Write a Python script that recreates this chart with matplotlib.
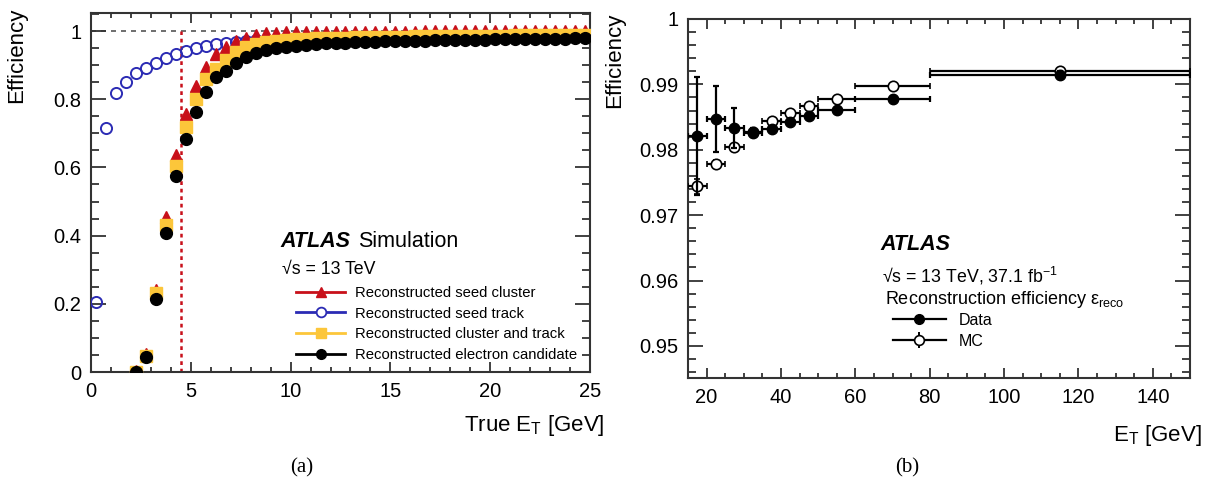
import matplotlib
matplotlib.use('Agg')
import matplotlib.pyplot as plt
import numpy as np
from matplotlib.lines import Line2D
from matplotlib.ticker import MultipleLocator, FormatStrFormatter

plt.rcParams['font.family'] = ['Liberation Sans', 'DejaVu Sans']
plt.rcParams['mathtext.fontset'] = 'custom'
plt.rcParams['mathtext.rm'] = 'Liberation Sans'
plt.rcParams['mathtext.it'] = 'Liberation Sans:italic'
plt.rcParams['mathtext.default'] = 'regular'

# ---- panel (a): efficiency vs true ET ----
x_track = np.arange(0.25, 25.0, 0.5)          # bin centres, 0.5 GeV bins
x_clus = np.arange(2.25, 25.0, 0.5)

eff_seed_track = [0.205, 0.715, 0.818, 0.850, 0.876, 0.893, 0.907, 0.922, 0.934, 0.941,
                  0.950, 0.957, 0.962, 0.964, 0.968, 0.971, 0.973, 0.974, 0.975, 0.976,
                  0.977, 0.977, 0.978, 0.978, 0.979, 0.979, 0.980, 0.980, 0.980, 0.981,
                  0.981, 0.981, 0.982, 0.982, 0.982, 0.982, 0.983, 0.983, 0.983, 0.983,
                  0.984, 0.984, 0.984, 0.984, 0.984, 0.985, 0.985, 0.985, 0.985, 0.985]
eff_seed_cluster = [0.003, 0.052, 0.241, 0.454, 0.637, 0.758, 0.838, 0.894, 0.933, 0.953,
                    0.970, 0.980, 0.988, 0.993, 0.995, 0.996,
                    0.997, 0.997, 0.997, 0.997, 0.998, 0.998, 0.998, 0.998, 0.998, 0.998,
                    0.998, 0.998, 0.998, 0.999, 0.999, 0.999, 0.999, 0.999, 0.999, 0.999,
                    0.999, 0.999, 0.999, 0.999, 0.999, 0.999, 0.999, 0.999, 0.999, 0.999]
eff_clus_track = [0.000, 0.048, 0.232, 0.430, 0.603, 0.719, 0.800, 0.859, 0.889, 0.916,
                  0.939, 0.953, 0.962, 0.968, 0.972, 0.975,
                  0.977, 0.978, 0.979, 0.980, 0.981, 0.981, 0.982, 0.982, 0.983, 0.983,
                  0.984, 0.984, 0.985, 0.985, 0.985, 0.986, 0.986, 0.986, 0.987, 0.987,
                  0.987, 0.987, 0.988, 0.988, 0.988, 0.988, 0.989, 0.989, 0.989, 0.989]
eff_electron = [0.000, 0.045, 0.215, 0.408, 0.574, 0.683, 0.763, 0.820, 0.864, 0.884,
                0.906, 0.923, 0.936, 0.944, 0.949, 0.954,
                0.957, 0.960, 0.962, 0.964, 0.965, 0.966, 0.967, 0.968, 0.969, 0.970,
                0.970, 0.971, 0.972, 0.972, 0.973, 0.973, 0.974, 0.974, 0.975, 0.975,
                0.976, 0.976, 0.976, 0.977, 0.977, 0.978, 0.978, 0.978, 0.979, 0.979]

# ---- panel (b): reconstruction efficiency vs ET ----
bin_edges = [15, 20, 25, 30, 35, 40, 45, 50, 60, 80, 150]
bin_centres = [17.5, 22.5, 27.5, 32.5, 37.5, 42.5, 47.5, 55, 70, 115]
eff_data = [0.9821, 0.9847, 0.9833, 0.9826, 0.9832, 0.9842, 0.9851, 0.9861, 0.9878, 0.9914]
err_data = [0.0090, 0.0050, 0.0031, 0.0007, 0.0004, 0.0004, 0.0004, 0.0004, 0.0004, 0.0006]
eff_mc = [0.9744, 0.9779, 0.9804, 0.9827, 0.9844, 0.9856, 0.9867, 0.9878, 0.9897, 0.9920]
err_mc = [0.0012, 0.0005, 0.0005, 0.0005, 0.0004, 0.0003, 0.0003, 0.0003, 0.0003, 0.0003]

RED = '#c8101a'
BLUE = '#2b2bb4'
YELLOW = '#fcc63a'
SPINE = '#333333'

W, H = 1209, 493
fig = plt.figure(figsize=(W / 100, H / 100), dpi=100)
ax1 = fig.add_axes([91 / W, 1 - 372 / H, (590 - 91) / W, (372 - 13) / H])
ax2 = fig.add_axes([688 / W, 1 - 378 / H, (1190 - 688) / W, (378 - 19) / H])


def style_axes(ax, ylen_major, xlen_major):
    for s in ax.spines.values():
        s.set_color(SPINE)
        s.set_linewidth(1.5)
    ax.tick_params(which='both', direction='in', top=True, right=True,
                   color=SPINE, width=1.3, labelsize=14.5)
    ax.tick_params(axis='y', which='major', length=ylen_major, pad=7)
    ax.tick_params(axis='y', which='minor', length=ylen_major / 2)
    ax.tick_params(axis='x', which='major', length=xlen_major, pad=7)
    ax.tick_params(axis='x', which='minor', length=xlen_major / 2)


def px(x, y):
    return x / W, 1 - y / H


# panel (a)
ax1.set_xlim(0, 25)
ax1.set_ylim(0, 1.053)
ax1.plot([0, 25], [1, 1], ls=(0, (3, 3)), color='#555555', lw=1.2, zorder=1)
ax1.plot([4.5, 4.5], [0, 1], ls=(0, (1.5, 1.5)), color=RED, lw=1.8, zorder=1)
ax1.plot(x_track, eff_seed_track, 'o', ms=8, mfc='none', mec=BLUE, mew=1.4, zorder=3)
ax1.plot(x_clus, eff_seed_cluster, '^', ms=8.5, color=RED, zorder=4)
ax1.plot(x_clus, eff_clus_track, 's', ms=8, color=YELLOW, zorder=5)
ax1.plot(x_clus, eff_electron, 'o', ms=8.5, color='black', zorder=6)
ax1.xaxis.set_major_locator(MultipleLocator(5))
ax1.xaxis.set_minor_locator(MultipleLocator(1))
ax1.yaxis.set_major_locator(MultipleLocator(0.2))
ax1.yaxis.set_minor_locator(MultipleLocator(0.05))
ax1.yaxis.set_major_formatter(FormatStrFormatter('%g'))
style_axes(ax1, 11, 7)

fig.text(*px(280, 241), 'ATLAS', fontsize=15.5, fontweight='bold', style='italic', va='center')
fig.text(*px(358, 241), 'Simulation', fontsize=15.5, va='center')
fig.text(*px(282, 270), '√s = 13 TeV', fontsize=12.8, va='center')
h1 = [Line2D([], [], color=RED, lw=2, marker='^', ms=7),
      Line2D([], [], color=BLUE, lw=2, marker='o', ms=7, mfc='white', mew=1.3),
      Line2D([], [], color=YELLOW, lw=2, marker='s', ms=7),
      Line2D([], [], color='black', lw=2, marker='o', ms=7)]
l1 = ['Reconstructed seed cluster', 'Reconstructed seed track',
      'Reconstructed cluster and track', 'Reconstructed electron candidate']
ax1.legend(h1, l1, loc='upper left', bbox_to_anchor=((296 - 91) / (590 - 91), (372 - 286) / (372 - 13)),
           frameon=False, fontsize=10.7, handlelength=3.3, handletextpad=0.7,
           labelspacing=0.45, borderaxespad=0, borderpad=0)

fig.text(*px(17, 8), 'Efficiency', rotation=90, fontsize=16, ha='center', va='top')
fig.text(*px(605, 425), 'True E$_T$ [GeV]', fontsize=16, ha='right', va='center')

# panel (b)
ax2.set_xlim(15, 150)
ax2.set_ylim(0.9451, 1.0)
xerr = [[c - lo for c, lo in zip(bin_centres, bin_edges[:-1])],
        [hi - c for c, hi in zip(bin_centres, bin_edges[1:])]]
ax2.errorbar(bin_centres, eff_mc, yerr=err_mc, xerr=xerr, fmt='o', ms=7.5,
             mfc='white', mec='black', mew=1.2, ecolor='black', elinewidth=1.6,
             capsize=2.5, capthick=1.6, zorder=3)
ax2.errorbar(bin_centres, eff_data, yerr=err_data, xerr=xerr, fmt='o', ms=7.5,
             color='black', ecolor='black', elinewidth=1.6,
             capsize=2.5, capthick=1.6, zorder=4)
ax2.xaxis.set_major_locator(MultipleLocator(20))
ax2.xaxis.set_minor_locator(MultipleLocator(5))
ax2.yaxis.set_major_locator(MultipleLocator(0.01))
ax2.yaxis.set_minor_locator(MultipleLocator(0.002))
ax2.yaxis.set_major_formatter(FormatStrFormatter('%g'))
style_axes(ax2, 11, 7)

fig.text(*px(880, 245), 'ATLAS', fontsize=15.5, fontweight='bold', style='italic', va='center')
fig.text(*px(882, 276), '√s = 13 TeV, 37.1 fb$^{-1}$', fontsize=12.8, va='center')
fig.text(*px(885, 299), r'Reconstruction efficiency $\epsilon_{reco}$', fontsize=13, va='center')
h_data = (Line2D([], [], color='black', lw=1.6),
          Line2D([], [], color='black', marker='o', ms=7, ls='none'))
h_mc = (Line2D([], [], color='black', lw=1.6),
        Line2D([], [], color='black', marker='|', ms=11, mew=1.4, ls='none'),
        Line2D([], [], color='black', marker='o', ms=7, mfc='white', mew=1.2, ls='none'))
ax2.legend([h_data, h_mc], ['Data', 'MC'], loc='upper left',
           bbox_to_anchor=((893 - 688) / (1190 - 688), (378 - 313) / (378 - 19)),
           frameon=False, fontsize=11.5, handlelength=3.3, handletextpad=0.8,
           labelspacing=0.35, borderaxespad=0, borderpad=0)

fig.text(*px(615, 13), 'Efficiency', rotation=90, fontsize=16, ha='center', va='top')
fig.text(*px(1202, 435), 'E$_T$ [GeV]', fontsize=16, ha='right', va='center')

# sub-captions
fig.text(*px(302, 468), '(a)', fontsize=15, ha='center', va='center', family='Liberation Serif')
fig.text(*px(907, 468), '(b)', fontsize=15, ha='center', va='center', family='Liberation Serif')

fig.savefig('out.png', dpi=100)
